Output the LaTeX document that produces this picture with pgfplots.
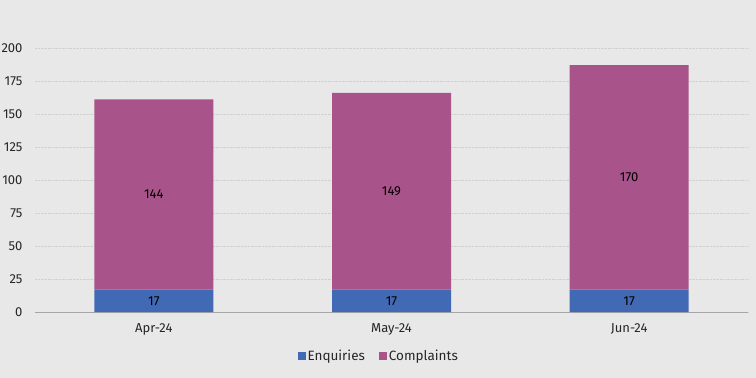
\documentclass[border=0pt]{standalone}
\usepackage{pgfplots}
\pgfplotsset{compat=1.18}
\usepackage{fontspec}
\setmainfont{Fira Sans}
\definecolor{bgc}{HTML}{E8E8E8}
\definecolor{enq}{HTML}{4269B4}
\definecolor{comp}{HTML}{A8548A}
\definecolor{txt}{HTML}{262626}
\definecolor{grd}{HTML}{D0D0D0}
\begin{document}
\begin{tikzpicture}
\fill[bgc] (-35pt,-66pt) rectangle (721pt,312pt);
\useasboundingbox (-35pt,-66pt) rectangle (721pt,312pt);
\begin{axis}[
  at={(0pt,0pt)}, anchor=south west,
  scale only axis, width=713pt, height=264pt,
  ybar stacked, bar width=119pt,
  xmin=-0.5, xmax=2.5, ymin=0, ymax=200,
  xtick={0,1,2}, xticklabels={Apr-24,May-24,Jun-24},
  ytick={0,25,50,75,100,125,150,175,200},
  major tick length=0pt,
  axis x line*=bottom,
  axis y line*=left,
  y axis line style={draw=none},
  x axis line style={-, draw=grd!80!black, line width=0.6pt},
  ymajorgrids, grid style={densely dotted, grd, line width=0.6pt},
  every tick label/.append style={font=\fontsize{13}{15}\selectfont, text=txt},
  /pgf/number format/assume math mode=true,
  yticklabel style={anchor=east, xshift=-9pt},
  xticklabel style={yshift=-8pt},
  legend style={at={(axis description cs:0.482,0)}, anchor=center, yshift=-44pt,
    draw=none, fill=none, legend columns=-1,
    font=\fontsize{13.5}{15}\selectfont, text=txt,
    /tikz/every even column/.append style={column sep=12pt}},
  legend image code/.code={\fill[#1] (0pt,-4pt) rectangle (8pt,4pt);},
  nodes near coords,
  point meta=explicit,
  every node near coord/.append style={anchor=center, font=\fontsize{13}{15}\selectfont, text=black},
]
\addplot[fill=enq, draw=none] table[x=x, y=y, meta=y] {
x y
0 17
1 17
2 17
};
\addlegendentry{Enquiries}
\addplot[fill=comp, draw=none] table[x=x, y=y, meta=y] {
x y
0 144
1 149
2 170
};
\addlegendentry{Complaints}
\end{axis}
\end{tikzpicture}
\end{document}
